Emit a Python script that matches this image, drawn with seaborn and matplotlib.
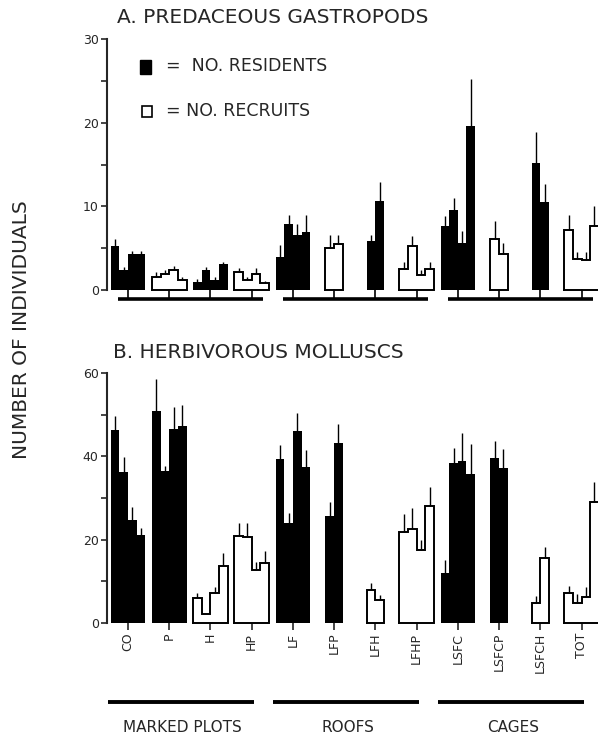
import numpy as np
import pandas as pd
import matplotlib
matplotlib.use("Agg")
import matplotlib.pyplot as plt
import seaborn as sns
from matplotlib.patches import Rectangle

# ---------------- data ----------------
groups = ["CO", "P", "H", "HP", "LF", "LFP", "LFH", "LFHP",
          "LSFC", "LSFCP", "LSFCH", "TOT"]
sections = ["MARKED PLOTS", "ROOFS", "CAGES"]
section_groups = [(0, 3), (4, 7), (8, 11)]

# panel A: predaceous gastropods (res = residents, rec = recruits)
a_kind = ["res", "rec", "res", "rec", "res", "rec",
          "res", "rec", "res", "rec", "res", "rec"]
a_means = [[5.3, 2.4, 4.3, 4.3], [1.6, 1.9, 2.4, 1.2], [1.0, 2.4, 1.2, 3.1],
           [2.2, 1.2, 1.9, 0.8], [4.0, 7.9, 6.6, 6.9], [5.0, 5.5],
           [5.8, 10.6], [2.5, 5.3, 1.8, 2.5], [7.6, 9.6, 5.6, 19.6],
           [6.1, 4.3], [15.2, 10.5], [7.2, 3.7, 3.6, 7.6]]
a_tops = [[6.1, 2.8, 4.7, 4.7], [2.2, 2.4, 2.9, 1.6], [1.3, 2.8, 1.5, 3.4],
          [2.6, 1.5, 2.6, 1.1], [5.4, 9.0, 7.9, 9.0], [6.6, 6.6],
          [6.6, 12.9], [3.4, 6.5, 2.4, 3.4], [8.8, 11.0, 7.0, 25.2],
          [8.3, 5.6], [18.9, 12.7], [9.0, 4.6, 4.6, 10.0]]

# panel B: herbivorous molluscs
b_kind = ["res", "res", "rec", "rec", "res", "res",
          "rec", "rec", "res", "res", "rec", "rec"]
b_means = [[46.4, 36.2, 24.7, 21.1], [51.0, 36.5, 46.5, 47.3],
           [5.9, 2.2, 7.1, 13.6], [20.8, 20.7, 12.7, 14.4],
           [39.3, 24.1, 46.0, 37.5], [25.7, 43.1], [7.9, 5.6],
           [21.9, 22.5, 17.5, 28.1], [12.1, 38.5, 39.0, 35.8],
           [39.5, 37.1], [4.8, 15.5], [7.1, 4.7, 6.3, 29.1]]
b_tops = [[49.7, 39.9, 27.9, 22.9], [58.5, 37.7, 51.8, 52.3],
          [7.3, 2.2, 8.7, 16.8], [23.9, 23.9, 14.7, 17.3],
          [42.7, 26.3, 50.4, 41.5], [29.1, 47.8], [9.5, 6.7],
          [26.1, 27.5, 19.9, 32.7], [15.1, 41.9, 45.5, 42.9],
          [43.8, 41.8], [6.4, 18.3], [8.8, 7.0, 8.7, 33.9]]

a_major = [0, 10, 20, 30]
a_minor = [5, 15, 25]
b_major = [0, 20, 40, 60]
b_minor = [10, 30, 50]

# ---------------- helpers ----------------
WIDTH = 0.84
BW = WIDTH / 4
HUES = ["s0", "s1", "s2", "s3"]


def to_frame(means, tops, kinds):
    rows = []
    for g, m, t, k in zip(groups, means, tops, kinds):
        slots = range(4) if len(m) == 4 else range(1, 3)
        for s, v, e in zip(slots, m, t):
            rows.append(dict(group=g, slot=f"s{s}", slotnum=s,
                             value=v, top=e, kind=k))
    return pd.DataFrame(rows)


def draw_panel(ax, df):
    for kind, color in [("res", "black"), ("rec", "white")]:
        sub = df[df.kind == kind]
        sns.barplot(data=sub, x="group", y="value", hue="slot",
                    order=groups, hue_order=HUES,
                    palette={h: color for h in HUES},
                    width=WIDTH, errorbar=None, saturation=1,
                    linewidth=0, legend=False, ax=ax)
    gi = df.group.map({g: i for i, g in enumerate(groups)})
    xc = gi + (df.slotnum - 1.5) * BW
    ax.vlines(xc, df.value, df.top, color="black", lw=1.0, zorder=3)
    for g, sub in df[df.kind == "rec"].groupby("group", sort=False):
        i = groups.index(g)
        left = i + (sub.slotnum.iloc[0] - 2) * BW
        xs, ys = [left], [0]
        for j, v in enumerate(sub.value):
            xs += [left + j * BW, left + (j + 1) * BW]
            ys += [v, v]
        xs += [xs[-1], left]
        ys += [0, 0]
        ax.plot(xs, ys, color="black", lw=1.4, solid_joinstyle="miter",
                zorder=4, clip_on=False)
    ax.set_xlabel("")
    ax.set_ylabel("")


sns.set_style("ticks")
plt.rcParams["font.family"] = ["DejaVu Sans"]

fig = plt.figure(figsize=(5.98, 7.40), dpi=100)
W, H = 598, 740
axA = fig.add_axes([107 / W, 1 - 290 / H, 1 - 107 / W, (290 - 39) / H])
axB = fig.add_axes([107 / W, 1 - 623 / H, 1 - 107 / W, (623 - 373) / H])

dfA = to_frame(a_means, a_tops, a_kind)
dfB = to_frame(b_means, b_tops, b_kind)
draw_panel(axA, dfA)
draw_panel(axB, dfB)

for ax, major, minor in [(axA, a_major, a_minor), (axB, b_major, b_minor)]:
    ax.set_xlim(-0.51, 11.40)
    ax.set_ylim(major[0], major[-1])
    ax.set_yticks(major)
    ax.set_yticks(minor, minor=True)
    ax.tick_params(axis="y", which="both", direction="out", length=4,
                   width=1.2, labelsize=9, pad=2)
    for s in ["top", "right", "bottom"]:
        ax.spines[s].set_visible(False)
    ax.spines["left"].set_linewidth(1.5)

axA.tick_params(axis="x", bottom=False, labelbottom=False)
axB.tick_params(axis="x", direction="out", length=5, width=1.2,
                labelsize=9, labelrotation=90, pad=2)

# panel A base line with stems
for (g0, g1) in section_groups:
    axA.plot([g0 - 0.25, g1 + 0.27], [-1.05, -1.05], color="black", lw=2.6,
             clip_on=False, solid_capstyle="butt")
for i in range(len(groups)):
    axA.plot([i, i], [0, -1.05], color="black", lw=1.2, clip_on=False)

# bottom section bars and labels
trans = axB.get_xaxis_transform()
for (g0, g1), name in zip(section_groups, sections):
    axB.plot([g0 - 0.48, g1 + 0.05], [-0.316, -0.316], color="black", lw=2.8,
             transform=trans, clip_on=False, solid_capstyle="butt")
    axB.text((g0 + g1) / 2 - 0.17, -0.42, name, transform=trans,
             ha="center", va="center", fontsize=11)

# titles, legend, y label
fig.text(117 / W, 1 - 17.5 / H, "A. PREDACEOUS GASTROPODS", fontsize=14.5,
         ha="left", va="center")
fig.text(113 / W, 1 - 352 / H, "B. HERBIVOROUS MOLLUSCS", fontsize=14.5,
         ha="left", va="center")
fig.text(22 / W, 1 - 330 / H, "NUMBER OF INDIVIDUALS", rotation=90,
         fontsize=14.5, ha="center", va="center")

fig.patches.append(Rectangle((140 / W, 1 - 74 / H), 11 / W, 14 / H,
                             transform=fig.transFigure, facecolor="black",
                             edgecolor="black"))
fig.patches.append(Rectangle((142 / W, 1 - 117 / H), 10 / W, 11 / H,
                             transform=fig.transFigure, facecolor="white",
                             edgecolor="black", lw=1.2))
fig.text(166 / W, 1 - 66 / H, "=  NO. RESIDENTS", fontsize=12.5,
         ha="left", va="center")
fig.text(166 / W, 1 - 111 / H, "= NO. RECRUITS", fontsize=12.5,
         ha="left", va="center")

fig.savefig("out.png", dpi=100)
